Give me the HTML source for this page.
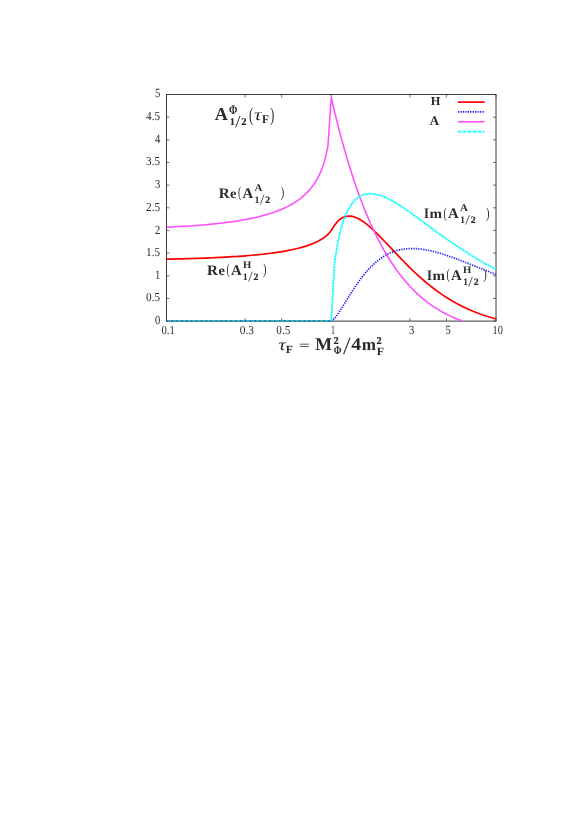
<!DOCTYPE html>
<html><head><meta charset="utf-8"><title>plot</title>
<style>
html,body{margin:0;padding:0;background:#fff;}
body{width:579px;height:819px;overflow:hidden;font-family:"Liberation Serif",serif;}
svg{display:block;}
text{font-family:"Liberation Serif",serif;fill:#2a2a2a;text-rendering:geometricPrecision;}
</style></head><body>
<svg width="579" height="819" viewBox="0 0 579 819">
<rect width="579" height="819" fill="#fff"/>

<rect x="166.5" y="94.5" width="329.50" height="226.60" fill="none" stroke="#3a3a3a" stroke-width="1"/>
<path d="M166.5,321.10h3 M496.0,321.10h-3 M166.5,298.44h3 M496.0,298.44h-3 M166.5,275.78h3 M496.0,275.78h-3 M166.5,253.12h3 M496.0,253.12h-3 M166.5,230.46h3 M496.0,230.46h-3 M166.5,207.80h3 M496.0,207.80h-3 M166.5,185.14h3 M496.0,185.14h-3 M166.5,162.48h3 M496.0,162.48h-3 M166.5,139.82h3 M496.0,139.82h-3 M166.5,117.16h3 M496.0,117.16h-3 M166.5,94.50h3 M496.0,94.50h-3 M166.50,321.1v-3 M166.50,94.5v3 M245.11,321.1v-3 M245.11,94.5v3 M281.66,321.1v-3 M281.66,94.5v3 M331.25,321.1v-3 M331.25,94.5v3 M409.86,321.1v-3 M409.86,94.5v3 M446.41,321.1v-3 M446.41,94.5v3 M496.00,321.1v-3 M496.00,94.5v3" stroke="#3a3a3a" stroke-width="0.7" fill="none"/>
<g fill="none" stroke-linejoin="round">
<path d="M166.50,259.20 L169.80,259.13 L173.09,259.05 L176.39,258.97 L179.68,258.89 L182.97,258.80 L186.27,258.71 L189.56,258.61 L192.86,258.51 L196.16,258.40 L199.45,258.28 L202.75,258.16 L206.04,258.03 L209.34,257.90 L212.63,257.75 L215.93,257.60 L219.22,257.45 L222.52,257.28 L225.81,257.10 L229.11,256.91 L232.40,256.71 L235.69,256.50 L238.99,256.28 L242.28,256.04 L245.58,255.79 L248.88,255.52 L252.17,255.24 L255.47,254.93 L258.76,254.61 L262.06,254.27 L265.35,253.90 L268.64,253.50 L271.94,253.08 L275.24,252.63 L278.53,252.14 L281.82,251.61 L285.12,251.05 L288.41,250.43 L291.71,249.76 L295.00,249.03 L298.30,248.24 L301.60,247.36 L304.89,246.39 L308.19,245.32 L311.48,244.11 L314.77,242.75 L318.07,241.18 L321.37,239.36 L324.66,237.17 L327.95,234.43 L331.25,230.46 L334.55,225.11 L337.84,221.17 L341.13,218.46 L344.43,216.82 L347.73,216.11 L351.02,216.19 L354.31,216.94 L357.61,218.28 L360.90,220.10 L364.20,222.32 L367.50,224.88 L370.79,227.71 L374.09,230.75 L377.38,233.96 L380.68,237.30 L383.97,240.72 L387.26,244.19 L390.56,247.69 L393.86,251.20 L397.15,254.68 L400.44,258.13 L403.74,261.53 L407.03,264.86 L410.33,268.11 L413.62,271.29 L416.92,274.37 L420.22,277.36 L423.51,280.25 L426.81,283.03 L430.10,285.71 L433.40,288.29 L436.69,290.75 L439.99,293.11 L443.28,295.37 L446.57,297.52 L449.87,299.57 L453.17,301.52 L456.46,303.37 L459.75,305.12 L463.05,306.78 L466.35,308.35 L469.64,309.83 L472.94,311.23 L476.23,312.54 L479.52,313.78 L482.82,314.94 L486.12,316.03 L489.41,317.04 L492.70,317.99 L496.00,318.88" stroke="#ff0000" stroke-width="1.7"/>
<path d="M331.25,321.10 L334.55,318.46 L337.84,314.11 L341.13,309.07 L344.43,303.73 L347.73,298.35 L351.02,293.05 L354.31,287.95 L357.61,283.11 L360.90,278.57 L364.20,274.36 L367.50,270.49 L370.79,266.97 L374.09,263.80 L377.38,260.97 L380.68,258.48 L383.97,256.30 L387.26,254.43 L390.56,252.85 L393.86,251.54 L397.15,250.49 L400.44,249.69 L403.74,249.11 L407.03,248.73 L410.33,248.55 L413.62,248.55 L416.92,248.71 L420.22,249.02 L423.51,249.47 L426.81,250.03 L430.10,250.71 L433.40,251.49 L436.69,252.35 L439.99,253.30 L443.28,254.31 L446.57,255.38 L449.87,256.51 L453.17,257.68 L456.46,258.89 L459.75,260.13 L463.05,261.40 L466.35,262.69 L469.64,263.99 L472.94,265.30 L476.23,266.62 L479.52,267.95 L482.82,269.27 L486.12,270.59 L489.41,271.90 L492.70,273.21 L496.00,274.50" stroke="#2020ff" stroke-width="1.7" stroke-dasharray="1.3,1.15"/>
<path d="M166.50,227.27 L169.80,227.11 L173.09,226.94 L176.39,226.76 L179.68,226.57 L182.97,226.38 L186.27,226.17 L189.56,225.95 L192.86,225.72 L196.16,225.48 L199.45,225.22 L202.75,224.95 L206.04,224.66 L209.34,224.36 L212.63,224.03 L215.93,223.69 L219.22,223.33 L222.52,222.95 L225.81,222.54 L229.11,222.11 L232.40,221.65 L235.69,221.17 L238.99,220.65 L242.28,220.09 L245.58,219.50 L248.88,218.87 L252.17,218.19 L255.47,217.47 L258.76,216.69 L262.06,215.86 L265.35,214.96 L268.64,213.99 L271.94,212.94 L275.24,211.80 L278.53,210.56 L281.82,209.20 L285.12,207.72 L288.41,206.10 L291.71,204.30 L295.00,202.30 L298.30,200.06 L301.60,197.55 L304.89,194.69 L308.19,191.40 L311.48,187.56 L314.77,183.00 L318.07,177.44 L321.37,170.40 L324.66,160.89 L327.95,146.32 L331.25,97.45 L334.55,111.54 L337.84,124.86 L341.13,137.47 L344.43,149.40 L347.73,160.68 L351.02,171.34 L354.31,181.41 L357.61,190.93 L360.90,199.92 L364.20,208.41 L367.50,216.42 L370.79,223.98 L374.09,231.11 L377.38,237.83 L380.68,244.17 L383.97,250.14 L387.26,255.76 L390.56,261.05 L393.86,266.02 L397.15,270.70 L400.44,275.10 L403.74,279.23 L407.03,283.12 L410.33,286.76 L413.62,290.17 L416.92,293.37 L420.22,296.37 L423.51,299.17 L426.81,301.80 L430.10,304.25 L433.40,306.54 L436.69,308.67 L439.99,310.66 L443.28,312.51 L446.57,314.24 L449.87,315.84 L453.17,317.32 L456.46,318.70 L459.75,319.98 L462.90,321.10" stroke="#ff4dff" stroke-width="1.55"/>
<path d="M331.25,321.10 L334.55,262.52 L337.84,241.68 L341.13,227.85 L344.43,217.88 L347.73,210.47 L351.02,204.92 L354.31,200.81 L357.61,197.82 L360.90,195.76 L364.20,194.45 L367.50,193.76 L370.79,193.61 L374.09,193.90 L377.38,194.57 L380.68,195.55 L383.97,196.81 L387.26,198.30 L390.56,199.98 L393.86,201.82 L397.15,203.79 L400.44,205.89 L403.74,208.07 L407.03,210.32 L410.33,212.64 L413.62,215.00 L416.92,217.39 L420.22,219.81 L423.51,222.24 L426.81,224.67 L430.10,227.10 L433.40,229.52 L436.69,231.92 L439.99,234.31 L443.28,236.67 L446.57,239.00 L449.87,241.31 L453.17,243.57 L456.46,245.81 L459.75,248.00 L463.05,250.16 L466.35,252.27 L469.64,254.34 L472.94,256.37 L476.23,258.35 L479.52,260.29 L482.82,262.19 L486.12,264.04 L489.41,265.84 L492.70,267.60 L496.00,269.32" stroke="#00ffff" stroke-width="1.7" stroke-dasharray="2.1,0.55"/>
<path d="M166.5,321.1H331.25" stroke="#22b2b8" stroke-width="1.5"/>
<path d="M166.5,321.1H331.25" stroke="#2440c8" stroke-width="1.5" stroke-dasharray="1.3,3.6" opacity="0.85"/>
</g>
<g opacity="0.999">
<text transform="matrix(0.5300,0,0,0.6148,154.90,324.08)" font-size="20" fill="#3a3a3a">0</text>
<text transform="matrix(0.5640,0,0,0.6103,146.10,301.36)" font-size="20" fill="#3a3a3a">0.5</text>
<text transform="matrix(0.5300,0,0,0.6288,154.90,278.88)" font-size="20" fill="#3a3a3a">1</text>
<text transform="matrix(0.5640,0,0,0.6148,146.10,256.04)" font-size="20" fill="#3a3a3a">1.5</text>
<text transform="matrix(0.5300,0,0,0.6264,154.90,233.56)" font-size="20" fill="#3a3a3a">2</text>
<text transform="matrix(0.5640,0,0,0.6125,146.10,210.72)" font-size="20" fill="#3a3a3a">2.5</text>
<text transform="matrix(0.5300,0,0,0.6171,154.90,188.12)" font-size="20" fill="#3a3a3a">3</text>
<text transform="matrix(0.5640,0,0,0.6125,146.10,165.40)" font-size="20" fill="#3a3a3a">3.5</text>
<text transform="matrix(0.5300,0,0,0.6312,154.90,142.92)" font-size="20" fill="#3a3a3a">4</text>
<text transform="matrix(0.5640,0,0,0.6171,146.10,120.07)" font-size="20" fill="#3a3a3a">4.5</text>
<text transform="matrix(0.5300,0,0,0.6241,154.90,97.48)" font-size="20" fill="#3a3a3a">5</text>
<text transform="matrix(0.5320,0,0,0.6103,161.55,334.02)" font-size="20" fill="#3a3a3a">0.1</text>
<text transform="matrix(0.5680,0,0,0.6103,239.71,334.02)" font-size="20" fill="#3a3a3a">0.3</text>
<text transform="matrix(0.5600,0,0,0.6103,276.36,334.02)" font-size="20" fill="#3a3a3a">0.5</text>
<text transform="matrix(0.4000,0,0,0.6288,330.95,334.20)" font-size="20" fill="#3a3a3a">1</text>
<text transform="matrix(0.5300,0,0,0.6171,408.91,334.08)" font-size="20" fill="#3a3a3a">3</text>
<text transform="matrix(0.5300,0,0,0.6241,445.46,334.08)" font-size="20" fill="#3a3a3a">5</text>
<text transform="matrix(0.5200,0,0,0.6148,492.50,334.08)" font-size="20" fill="#3a3a3a">10</text>
<text transform="matrix(0.6174,0,0,0.6031,430.80,105.00)" font-size="20" font-weight="bold">H</text>
<text transform="matrix(0.6436,0,0,0.6667,429.80,124.90)" font-size="20" font-weight="bold">A</text>
<g fill="none">
<path d="M457.9,102.1H484.6" stroke="#ff0000" stroke-width="1.7"/>
<path d="M457.9,111.9H484.6" stroke="#2020ff" stroke-width="1.7" stroke-dasharray="1.3,1.15"/>
<path d="M457.9,121.8H484.6" stroke="#ff4dff" stroke-width="1.55"/>
<path d="M457.9,131.6H484.6" stroke="#00ffff" stroke-width="1.7" stroke-dasharray="3,0.7,0.7,0.7"/>
</g>
<text transform="matrix(0.9066,0,0,0.9167,214.80,120.00)" font-size="20" font-weight="bold">A</text>
<text transform="matrix(0.5060,0,0,0.6641,229.10,113.80)" font-size="20" font-weight="bold">Φ</text>
<text transform="matrix(0.4700,0,0,0.5152,230.00,124.70)" font-size="20" font-weight="bold" stroke="#2a2a2a" stroke-width="0.365">1</text>
<path d="M235.60,127.50L240.00,116.00" stroke="#2a2a2a" stroke-width="0.9" fill="none"/>
<text transform="matrix(0.5300,0,0,0.5132,241.20,124.70)" font-size="20" font-weight="bold" stroke="#2a2a2a" stroke-width="0.345">2</text>
<text transform="matrix(0.6316,0,0,0.9752,248.90,120.56)" font-size="20" fill="#484848">(</text>
<text transform="matrix(1.0385,0,0,0.8298,254.00,119.93)" font-size="20" font-style="italic">τ</text>
<text transform="matrix(0.5738,0,0,0.5954,261.90,122.50)" font-size="20" font-weight="bold">F</text>
<text transform="matrix(0.6015,0,0,0.9752,270.20,120.56)" font-size="20" fill="#484848">)</text>
<text transform="matrix(0.7577,0,0,0.7328,218.80,197.80)" font-size="20" font-weight="bold">R</text>
<text transform="matrix(0.7303,0,0,0.6979,230.10,197.86)" font-size="20" font-weight="bold">e</text>
<text transform="matrix(0.4812,0,0,0.7603,238.10,197.47)" font-size="20" fill="#484848">(</text>
<text transform="matrix(0.7405,0,0,0.7424,242.60,197.80)" font-size="20" font-weight="bold">A</text>
<text transform="matrix(0.5467,0,0,0.5076,254.50,190.70)" font-size="20" font-weight="bold">A</text>
<text transform="matrix(0.4100,0,0,0.4924,255.00,202.80)" font-size="20" font-weight="bold" stroke="#2a2a2a" stroke-width="0.399">1</text>
<path d="M260.30,204.50L263.90,194.90" stroke="#2a2a2a" stroke-width="0.75" fill="none"/>
<text transform="matrix(0.4900,0,0,0.4906,265.30,202.80)" font-size="20" font-weight="bold" stroke="#2a2a2a" stroke-width="0.367">2</text>
<text transform="matrix(0.5263,0,0,0.7603,280.70,197.47)" font-size="20" fill="#484848">)</text>
<text transform="matrix(0.7577,0,0,0.7328,207.10,274.80)" font-size="20" font-weight="bold">R</text>
<text transform="matrix(0.7303,0,0,0.6979,218.40,274.86)" font-size="20" font-weight="bold">e</text>
<text transform="matrix(0.4812,0,0,0.7603,226.40,274.47)" font-size="20" fill="#484848">(</text>
<text transform="matrix(0.7405,0,0,0.7424,230.90,274.80)" font-size="20" font-weight="bold">A</text>
<text transform="matrix(0.5338,0,0,0.4885,242.90,267.70)" font-size="20" font-weight="bold">H</text>
<text transform="matrix(0.4100,0,0,0.4924,243.30,279.80)" font-size="20" font-weight="bold" stroke="#2a2a2a" stroke-width="0.399">1</text>
<path d="M248.60,281.50L252.20,271.90" stroke="#2a2a2a" stroke-width="0.75" fill="none"/>
<text transform="matrix(0.4900,0,0,0.4906,253.60,279.80)" font-size="20" font-weight="bold" stroke="#2a2a2a" stroke-width="0.367">2</text>
<text transform="matrix(0.5263,0,0,0.7603,263.10,274.47)" font-size="20" fill="#484848">)</text>
<text transform="matrix(0.6410,0,0,0.7328,424.00,218.00)" font-size="20" font-weight="bold">I</text>
<text transform="matrix(0.7508,0,0,0.6809,429.50,218.00)" font-size="20" font-weight="bold">m</text>
<text transform="matrix(0.4812,0,0,0.7603,443.50,217.67)" font-size="20" fill="#484848">(</text>
<text transform="matrix(0.7405,0,0,0.7424,448.00,218.00)" font-size="20" font-weight="bold">A</text>
<text transform="matrix(0.5467,0,0,0.5076,459.90,210.90)" font-size="20" font-weight="bold">A</text>
<text transform="matrix(0.4100,0,0,0.4924,460.40,223.00)" font-size="20" font-weight="bold" stroke="#2a2a2a" stroke-width="0.399">1</text>
<path d="M465.70,224.70L469.30,215.10" stroke="#2a2a2a" stroke-width="0.75" fill="none"/>
<text transform="matrix(0.4900,0,0,0.4906,470.70,223.00)" font-size="20" font-weight="bold" stroke="#2a2a2a" stroke-width="0.367">2</text>
<text transform="matrix(0.5263,0,0,0.7603,486.10,217.67)" font-size="20" fill="#484848">)</text>
<text transform="matrix(0.6410,0,0,0.7328,427.00,279.80)" font-size="20" font-weight="bold">I</text>
<text transform="matrix(0.7508,0,0,0.6809,432.50,279.80)" font-size="20" font-weight="bold">m</text>
<text transform="matrix(0.4812,0,0,0.7603,446.50,279.47)" font-size="20" fill="#484848">(</text>
<text transform="matrix(0.7405,0,0,0.7424,451.00,279.80)" font-size="20" font-weight="bold">A</text>
<text transform="matrix(0.5338,0,0,0.4885,463.00,272.70)" font-size="20" font-weight="bold">H</text>
<text transform="matrix(0.4100,0,0,0.4924,463.40,284.80)" font-size="20" font-weight="bold" stroke="#2a2a2a" stroke-width="0.399">1</text>
<path d="M468.70,286.50L472.30,276.90" stroke="#2a2a2a" stroke-width="0.75" fill="none"/>
<text transform="matrix(0.4900,0,0,0.4906,473.70,284.80)" font-size="20" font-weight="bold" stroke="#2a2a2a" stroke-width="0.367">2</text>
<text transform="matrix(0.5263,0,0,0.7603,483.20,279.47)" font-size="20" fill="#484848">)</text>
<text transform="matrix(1.0000,0,0,0.8085,278.40,350.34)" font-size="20" font-style="italic">τ</text>
<text transform="matrix(0.5820,0,0,0.5496,285.80,352.70)" font-size="20" font-weight="bold">F</text>
<text transform="matrix(0.9823,0,0,0.5683,298.70,349.00)" font-size="20">=</text>
<text transform="matrix(0.8889,0,0,0.8931,315.20,350.40)" font-size="20" font-weight="bold">M</text>
<text transform="matrix(0.5200,0,0,0.5208,333.40,343.90)" font-size="20" font-weight="bold" stroke="#2a2a2a" stroke-width="0.346">2</text>
<text transform="matrix(0.4699,0,0,0.5954,333.70,354.30)" font-size="20" font-weight="bold">Φ</text>
<path d="M343.60,354.30L350.00,337.70" stroke="#2a2a2a" stroke-width="1.05" fill="none"/>
<text transform="matrix(0.9900,0,0,0.8897,351.30,350.40)" font-size="20" font-weight="bold">4</text>
<text transform="matrix(0.8529,0,0,0.8511,361.70,350.40)" font-size="20" font-weight="bold">m</text>
<text transform="matrix(0.5200,0,0,0.5208,376.50,343.90)" font-size="20" font-weight="bold" stroke="#2a2a2a" stroke-width="0.346">2</text>
<text transform="matrix(0.5984,0,0,0.5573,376.70,354.60)" font-size="20" font-weight="bold">F</text>
</g>
</svg></body></html>
